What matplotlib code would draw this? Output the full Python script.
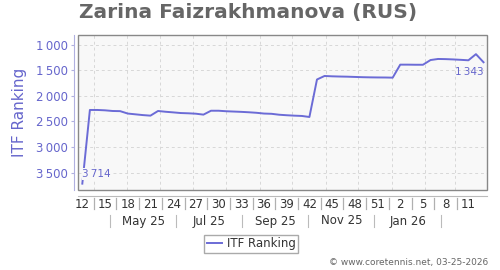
import numpy as np
import pandas as pd
import matplotlib
matplotlib.use("Agg")
import matplotlib.pyplot as plt
from matplotlib.lines import Line2D
from matplotlib.patches import Rectangle
from matplotlib.ticker import FuncFormatter
import matplotlib.transforms as mtransforms

# data: weekly ITF ranking, 2025 week 12 .. 2026 week 13
start = pd.Timestamp("2025-03-21")
ranking = [3714, 2275, 2275, 2282, 2295, 2298, 2345, 2360, 2375, 2386,
           2295, 2310, 2322, 2335, 2340, 2348, 2366, 2290, 2290, 2300,
           2306, 2312, 2320, 2330, 2345, 2350, 2368, 2378, 2386, 2392,
           2412, 1680, 1611, 1618, 1622, 1625, 1630, 1635, 1638, 1640,
           1641, 1644, 1390, 1390, 1392, 1392, 1300, 1279, 1282, 1288,
           1296, 1305, 1185, 1343]
week_numbers = [(12 + i - 1) % 52 + 1 for i in range(len(ranking))]
month_labels = ["May 25", "Jul 25", "Sep 25", "Nov 25", "Jan 26"]
yticks = [1000, 1500, 2000, 2500, 3000, 3500]

purple = "#6666cc"
line_col = "#6b6bd6"
lav = "#b0b0e0"
grey = "#666666"


def date_to_x(d):
    return (pd.Timestamp(d) - start).days / 7.0


def fmt(v):
    return f"{int(v):,}".replace(",", "\u2009")


x = np.arange(len(ranking))

fig = plt.figure(figsize=(5, 2.7), dpi=100)
ax = fig.add_axes([78 / 500, 1 - 190 / 270, (487 - 78) / 500, (190 - 35) / 270])
ax.set_facecolor("#f8f8f8")

ax.plot(x, ranking, color=line_col, lw=1.4, label="ITF Ranking", zorder=3)

ax.set_xlim(-0.57, 53.46)
ax.set_ylim(3838, 811)

# gridlines: ranking steps and month starts
for v in yticks:
    ax.axhline(v, color="#d8d8d8", lw=0.7, ls=(0, (3, 3)), zorder=1)
for m in pd.date_range("2025-04-01", "2026-03-01", freq="MS"):
    ax.axvline(date_to_x(m), color="#d8d8d8", lw=0.7, ls=(0, (3, 3)), zorder=1)

# frame and axis lines
for s in ["top", "right"]:
    ax.spines[s].set_visible(False)
ax.add_patch(Rectangle((0, 0), 1, 1, transform=ax.transAxes, fill=False,
                       edgecolor="#888888", lw=1.0, clip_on=False, zorder=4))
ax.spines["left"].set_position(("outward", 3))
ax.spines["left"].set_color(lav)
ax.spines["bottom"].set_position(("outward", 4))
ax.spines["bottom"].set_color("#bbbbbb")

ax.set_yticks(yticks)
ax.yaxis.set_major_formatter(FuncFormatter(lambda v, p: fmt(v)))
ax.tick_params(axis="y", length=2.5, color=lav, labelcolor=purple, labelsize=8.5, pad=2)

ax.set_xticks(x[::3])
ax.set_xticklabels([str(w) for w in week_numbers[::3]])
ax.tick_params(axis="x", length=0, labelcolor="#333333", labelsize=8.5, pad=2)

ax.set_ylabel("ITF Ranking", color=purple, fontsize=11, labelpad=6)

# separators below the axis
tr = mtransforms.blended_transform_factory(ax.transData, fig.transFigure)
for i in range(1, len(ranking) - 3, 3):
    xs = i + 0.5
    fig.add_artist(Line2D([xs, xs], [1 - 198 / 270, 1 - 209 / 270], transform=tr,
                          color="#b0b0b0", lw=0.9, zorder=5))
seps = pd.date_range("2025-04-01", "2026-02-01", freq="2MS") + pd.Timedelta(days=15)
for d in seps:
    xs = date_to_x(d)
    fig.add_artist(Line2D([xs, xs], [1 - 215 / 270, 1 - 227 / 270], transform=tr,
                          color="#bbbbbb", lw=0.8, zorder=5))
for k, lab in enumerate(month_labels):
    xm = (date_to_x(seps[k]) + date_to_x(seps[k + 1])) / 2
    fig.text(xm, 1 - 221 / 270, lab, transform=tr, ha="center", va="center",
             fontsize=8.5, color="#333333")

# first / last value labels
ax.text(x[0], 3623, fmt(ranking[0]),
        color=purple, fontsize=7.5, ha="left", va="bottom", zorder=5,
        bbox=dict(facecolor="#f8f8f8", edgecolor="none", pad=0.5))
ax.text(x[-1], ranking[-1] + 90, fmt(ranking[-1]),
        color=purple, fontsize=7.5, ha="right", va="top", zorder=5)

fig.suptitle("Zarina Faizrakhmanova (RUS)", x=0.497, y=1 - 3 / 270, va="top",
             fontsize=14.5, fontweight="bold", color=grey)

fig.legend(loc="center", bbox_to_anchor=(251 / 500, 1 - 244 / 270), fontsize=8.5,
           fancybox=False, edgecolor="#aaaaaa", framealpha=1, handlelength=1.3,
           borderpad=0.25, handletextpad=0.4, labelcolor="#333333")

fig.text(488 / 500, 1 - 263 / 270, "\u00a9 www.coretennis.net, 03-25-2026",
         ha="right", va="center", fontsize=6.5, color=grey)

fig.savefig("out.png", dpi=100, facecolor="white")
